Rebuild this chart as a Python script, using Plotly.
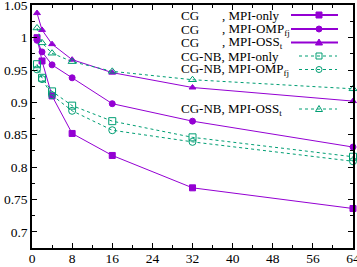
import plotly.graph_objects as go

threads = [1, 2, 4, 8, 16, 32, 64]

cg_mpi_only = [1.000, 0.964, 0.910, 0.852, 0.818, 0.768, 0.736]
cg_mpi_omp = [0.996, 0.978, 0.958, 0.938, 0.898, 0.871, 0.831]
cg_mpi_oss = [1.038, 1.012, 0.990, 0.966, 0.946, 0.923, 0.902]
nb_mpi_only = [0.959, 0.938, 0.917, 0.895, 0.871, 0.846, 0.816]
nb_mpi_omp = [0.951, 0.936, 0.911, 0.887, 0.857, 0.839, 0.809]
nb_mpi_oss = [1.015, 0.992, 0.976, 0.963, 0.948, 0.935, 0.921]

x_ticks = [0, 8, 16, 24, 32, 40, 48, 56, 64]
y_ticks = [0.7, 0.75, 0.8, 0.85, 0.9, 0.95, 1.0, 1.05]
y_tick_labels = ["0.7", "0.75", "0.8", "0.85", "0.9", "0.95", "1", "1.05"]

PURPLE = "#9400D3"
GREEN = "#009E73"
FONT = "Liberation Serif"

series = [
    ("CG", ", MPI-only", cg_mpi_only, PURPLE, "square", "solid"),
    ("CG", ", MPI-OMP<sub>fj</sub>", cg_mpi_omp, PURPLE, "circle", "solid"),
    ("CG", ", MPI-OSS<sub>t</sub>", cg_mpi_oss, PURPLE, "triangle-up", "solid"),
    ("CG-NB", ", MPI-only", nb_mpi_only, GREEN, "square-open", "dot"),
    ("CG-NB", ", MPI-OMP<sub>fj</sub>", nb_mpi_omp, GREEN, "circle-open", "dot"),
    ("CG-NB", ", MPI-OSS<sub>t</sub>", nb_mpi_oss, GREEN, "triangle-up-open", "dot"),
]

W, H = 357, 267
ML, MR, MT, MB = 32, 4, 5, 19
PW, PH = W - ML - MR, H - MT - MB


def px(x):
    return (x - ML) / PW


def py(y):
    return (H - MB - y) / PH


fig = go.Figure()
for prefix, suffix, vals, color, sym, dash in series:
    fig.add_trace(go.Scatter(
        x=threads, y=vals, mode="lines+markers",
        line=dict(color=color, width=1, dash=dash),
        marker=dict(symbol=sym, size=6 if "open" not in sym else 7,
                    color=color, line=dict(color=color, width=1)),
        showlegend=False, cliponaxis=False,
    ))

# legend drawn on the right like the original
rows_y = [15, 29, 42.5, 56, 69.5, 109]
shapes = []
annotations = []
for (prefix, suffix, vals, color, sym, dash), ry in zip(series, rows_y):
    tfont = dict(family=FONT, size=13, color="black")
    if prefix == "CG":
        annotations.append(dict(x=px(179), y=py(ry), xref="paper", yref="paper",
                                text=prefix, showarrow=False, xanchor="left",
                                yanchor="middle", font=tfont))
        annotations.append(dict(x=px(219.5), y=py(ry), xref="paper", yref="paper",
                                text=suffix, showarrow=False, xanchor="left",
                                yanchor="middle", font=tfont))
    else:
        annotations.append(dict(x=px(179), y=py(ry), xref="paper", yref="paper",
                                text=prefix + suffix, showarrow=False, xanchor="left",
                                yanchor="middle", font=tfont))
    if dash == "solid":
        shapes.append(dict(type="line", xref="paper", yref="paper",
                           x0=px(291), x1=px(338), y0=py(ry), y1=py(ry),
                           line=dict(color=color, width=2)))
    else:
        shapes.append(dict(type="line", xref="paper", yref="paper",
                           x0=px(299), x1=px(337), y0=py(ry), y1=py(ry),
                           line=dict(color=color, width=1, dash="dot")))
    cx, cy = px(319), py(ry)
    filled = "open" not in sym
    fill = color if filled else "rgba(0,0,0,0)"
    common = dict(xref="paper", yref="paper", xsizemode="pixel", ysizemode="pixel",
                  xanchor=cx, yanchor=cy, line=dict(color=color, width=1), fillcolor=fill)
    if sym.startswith("square"):
        shapes.append(dict(type="rect", x0=-3, x1=3, y0=-3, y1=3, **common))
    elif sym.startswith("circle"):
        shapes.append(dict(type="circle", x0=-3, x1=3, y0=-3, y1=3, **common))
    else:
        shapes.append(dict(type="path", path="M -3.5,-2.5 L 3.5,-2.5 L 0,3.5 Z", **common))

axis_common = dict(
    showgrid=False, zeroline=False, showline=True, linecolor="black", linewidth=1.5,
    mirror="ticks", ticks="inside", ticklen=5, tickcolor="black", tickwidth=1,
    tickfont=dict(family=FONT, size=13.5, color="black"), automargin=False,
    ticklabeloverflow="allow",
)

fig.update_layout(
    width=W, height=H,
    margin=dict(l=ML, r=MR, t=MT, b=MB, pad=0),
    paper_bgcolor="white", plot_bgcolor="white",
    xaxis=dict(range=[0, 64], tickmode="array", tickvals=x_ticks,
               ticktext=[str(v) for v in x_ticks], ticklabelstandoff=-3,
               minor=dict(dtick=4, tick0=0, ticks="inside", ticklen=3, tickcolor="black"),
               **axis_common),
    yaxis=dict(range=[0.675, 1.0505], tickmode="array", tickvals=y_ticks,
               ticktext=y_tick_labels,
               minor=dict(dtick=0.025, tick0=0.7, ticks="inside", ticklen=3, tickcolor="black"),
               **axis_common),
    shapes=shapes,
    annotations=annotations,
)

fig.write_html(
    "out.html",
    config={"displayModeBar": False},
    post_script="document.body.style.margin='0';document.body.style.padding='0';"
                "document.documentElement.style.overflow='hidden';",
)
